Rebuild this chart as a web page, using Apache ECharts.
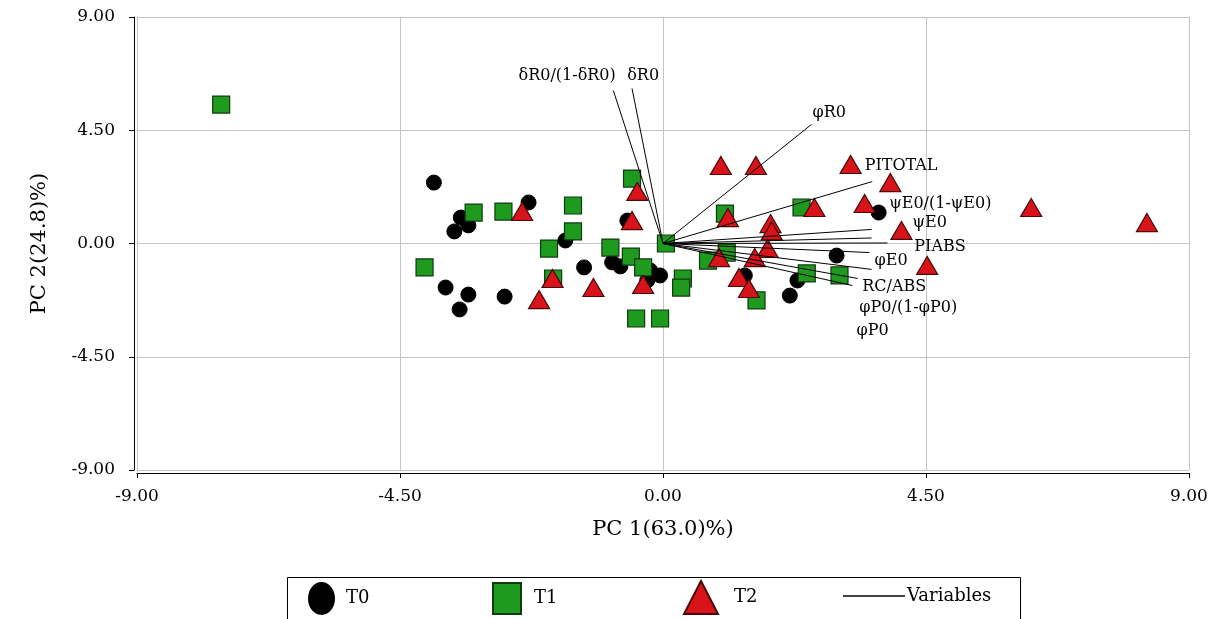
<!DOCTYPE html>
<html>
<head>
<meta charset="utf-8">
<script src="https://cdn.jsdelivr.net/npm/echarts@6/dist/echarts.min.js"></script>
<style>
  html, body { margin: 0; padding: 0; background: #fff; }
  #chart { width: 1223px; height: 619px; }
</style>
</head>
<body>
<div id="chart"></div>
<script>
// PCA biplot: sample scores for three treatments plus variable loading vectors.
const axisTicks = [-9, -4.5, 0, 4.5, 9];

const scoresT0 = [
  [-3.92, 2.42], [-3.46, 1.03], [-3.33, 0.72], [-3.57, 0.48], [-2.30, 1.63],
  [-3.72, -1.75], [-3.33, -2.03], [-3.48, -2.62], [-2.71, -2.11],
  [-1.67, 0.12], [-0.61, 0.91], [-1.35, -0.95], [-0.87, -0.75], [-0.73, -0.91],
  [-0.22, -1.07], [-0.05, -1.27], [-0.27, -1.47],
  [1.40, -1.27], [2.30, -1.47], [2.17, -2.07], [2.97, -0.48], [3.69, 1.23]
];

const scoresT1 = [
  [-7.56, 5.52], [-3.24, 1.23], [-2.73, 1.27], [-4.08, -0.95], [-0.53, 2.58],
  [-1.54, 1.51], [-1.54, 0.48], [-1.95, -0.20], [-0.90, -0.16], [-0.55, -0.52],
  [-0.34, -0.95], [-1.88, -1.39], [-0.46, -2.98], [-0.05, -2.98], [0.05, 0.0],
  [0.34, -1.39], [0.31, -1.75], [1.06, 1.19], [2.37, 1.43], [1.09, -0.36],
  [0.77, -0.68], [1.60, -2.26], [2.46, -1.19], [3.02, -1.27]
];

const scoresT2 = [
  [-2.41, 1.27], [-1.89, -1.39], [-2.12, -2.23], [-1.19, -1.75], [-0.44, 2.07],
  [-0.53, 0.91], [-0.34, -1.63], [0.99, 3.10], [1.59, 3.10], [3.21, 3.14],
  [3.89, 2.42], [2.59, 1.43], [3.45, 1.59], [4.08, 0.52], [1.11, 1.03],
  [1.84, 0.79], [1.86, 0.50], [1.79, -0.20], [1.57, -0.56], [0.96, -0.56],
  [1.30, -1.35], [1.47, -1.79], [4.52, -0.87], [6.30, 1.43], [8.28, 0.83]
];

const variableNames = [
  'δR0/(1-δR0)', 'δR0', 'φR0', 'PITOTAL', 'ψE0/(1-ψE0)', 'ψE0',
  'PIABS', 'φE0', 'RC/ABS', 'φP0/(1-φP0)', 'φP0'
];
// loading vector tips
const loadings = [
  [-0.85, 6.08], [-0.53, 6.16], [2.54, 4.73], [3.58, 2.46], [3.57, 0.56], [3.57, 0.22],
  [3.84, 0.02], [3.53, -0.36], [3.57, -1.03], [3.33, -1.39], [3.24, -1.67]
];
// where each variable name is written (left edge, except the two δR0 names which are centred)
const loadingLabelAt = [
  [-1.64, 6.67], [-0.34, 6.67], [2.56, 5.20], [3.45, 3.10], [3.87, 1.59], [4.27, 0.83],
  [4.30, -0.12], [3.62, -0.68], [3.41, -1.71], [3.36, -2.54], [3.31, -3.46]
];

const SERIF = "'DejaVu Serif', 'Liberation Serif', serif";
const fmt = v => v.toFixed(2);

const chart = echarts.init(document.getElementById('chart'), null, { renderer: 'canvas' });

const ellipsePath = 'path://M50,0 A50,50 0 1,1 50,100 A50,50 0 1,1 50,0 Z';

function legendItem(left, top, name, icon, w, h, textPad, extra) {
  return Object.assign({
    left: left, top: top, padding: 0, itemGap: 0,
    itemWidth: w, itemHeight: h,
    symbolKeepAspect: false,
    selectedMode: false,
    textStyle: { fontFamily: SERIF, fontSize: 18, color: '#000', padding: [0, 0, 0, textPad] },
    data: [{ name: name, icon: icon }]
  }, extra || {});
}

const option = {
  backgroundColor: '#fff',
  animation: false,
  grid: { left: 137, right: 34, top: 17, bottom: 149, containLabel: false },
  xAxis: {
    type: 'value',
    min: axisTicks[0], max: axisTicks[axisTicks.length - 1], interval: 4.5,
    name: 'PC 1(63.0)%)',
    nameLocation: 'middle',
    nameGap: 46,
    nameTextStyle: { fontFamily: SERIF, fontSize: 21, color: '#000' },
    offset: 3,
    axisLine: { show: true, onZero: false, lineStyle: { color: '#000', width: 1 } },
    axisTick: { show: true, inside: false, length: 5, lineStyle: { color: '#000' } },
    axisLabel: { formatter: fmt, fontFamily: SERIF, fontSize: 17, color: '#000', margin: 15 },
    splitLine: { show: true, lineStyle: { color: '#c4c4c4', width: 1 } }
  },
  yAxis: {
    type: 'value',
    min: axisTicks[0], max: axisTicks[axisTicks.length - 1], interval: 4.5,
    name: 'PC 2(24.8)%)',
    nameLocation: 'middle',
    nameGap: 84,
    nameRotate: 90,
    nameTextStyle: { fontFamily: SERIF, fontSize: 21, color: '#000' },
    offset: 3,
    axisLine: { show: true, onZero: false, lineStyle: { color: '#000', width: 1 } },
    axisTick: { show: true, inside: false, length: 5, lineStyle: { color: '#000' } },
    axisLabel: { formatter: fmt, fontFamily: SERIF, fontSize: 17, color: '#000', margin: 19 },
    splitLine: { show: true, lineStyle: { color: '#c4c4c4', width: 1 } }
  },
  legend: [
    legendItem(308, 582, 'T0', ellipsePath, 25, 31, 7),
    legendItem(492, 582, 'T1', 'rect', 28, 31, 8),
    legendItem(683, 580, 'T2', 'triangle', 34, 33, 11),
    legendItem(843, 587, 'Variables', 'rect', 62, 1.5, -3, {
      data: [{ name: 'Variables', icon: 'rect', itemStyle: { color: '#000', borderWidth: 0 } }]
    })
  ],
  graphic: [{
    type: 'rect',
    shape: { x: 287.5, y: 577.5, width: 733, height: 44 },
    style: { fill: 'none', stroke: '#000', lineWidth: 1 },
    silent: true
  }],
  series: [
    {
      name: 'T0', type: 'scatter', data: scoresT0, symbol: 'circle', symbolSize: 15, z: 2,
      itemStyle: { color: '#000', borderColor: '#000', borderWidth: 1, opacity: 1 }
    },
    {
      name: 'T1', type: 'scatter', data: scoresT1, symbol: 'rect', symbolSize: 17, z: 3,
      itemStyle: { color: '#1e9a1e', borderColor: '#103a10', borderWidth: 1.2, opacity: 1 }
    },
    {
      name: 'T2', type: 'scatter', data: scoresT2, symbol: 'triangle', symbolSize: [21, 18], z: 4,
      itemStyle: { color: '#d8141a', borderColor: '#4a0808', borderWidth: 1.2, opacity: 1 }
    },
    {
      name: 'Variables', type: 'lines', coordinateSystem: 'cartesian2d', z: 5,
      polyline: false,
      data: loadings.map((p, i) => ({ name: variableNames[i], coords: [[0, 0], p] })),
      lineStyle: { color: '#000', width: 1, opacity: 1 },
      symbol: ['none', 'none'],
      silent: true
    },
    {
      name: 'variable names', type: 'scatter', z: 6, silent: true,
      data: loadingLabelAt.map((p, i) => ({
        value: p,
        name: variableNames[i],
        label: { align: i < 2 ? 'center' : 'left' }
      })),
      symbolSize: 0,
      itemStyle: { color: '#000', opacity: 1 },
      label: {
        show: true,
        position: 'inside',
        formatter: p => p.name,
        fontFamily: SERIF, fontSize: 16, color: '#000', opacity: 1,
        textBorderWidth: 0,
        verticalAlign: 'middle'
      },
      labelLayout: { hideOverlap: false }
    }
  ]
};

chart.setOption(option);
</script>
</body>
</html>
